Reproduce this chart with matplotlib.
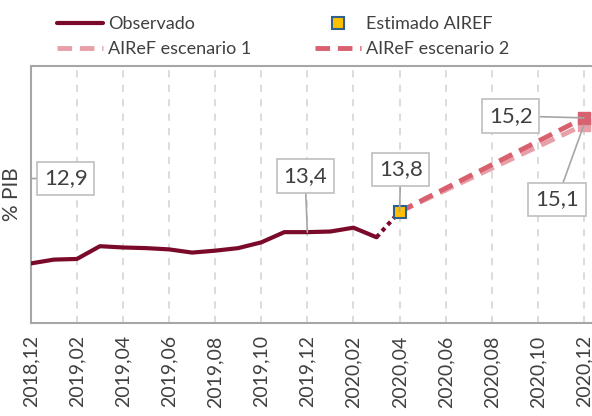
import matplotlib.pyplot as plt
import numpy as np

plt.rcParams['font.family'] = ['Lato', 'DejaVu Sans']

meses = ['2018,12', '2019,01', '2019,02', '2019,03', '2019,04', '2019,05', '2019,06',
         '2019,07', '2019,08', '2019,09', '2019,10', '2019,11', '2019,12', '2020,01',
         '2020,02', '2020,03', '2020,04', '2020,05', '2020,06', '2020,07', '2020,08',
         '2020,09', '2020,10', '2020,11', '2020,12']
observado = [12.92, 12.98, 12.99, 13.19, 13.17, 13.16, 13.14, 13.09, 13.12, 13.16,
             13.25, 13.41, 13.41, 13.42, 13.48, 13.33]
estimado = 13.73          # 2020,04
esc1 = [13.73, 15.09]     # 2020,04 -> 2020,12
esc2 = [13.73, 15.20]

gris_txt = '#404040'
c_obs = '#7B0A2A'
c_e1 = '#E8A0A8'
c_e2 = '#D9606E'

x = np.arange(len(meses))
i_est = meses.index('2020,04')
i_fin = meses.index('2020,12')

fig = plt.figure(figsize=(5.92, 4.16), dpi=100)
ax = fig.add_axes([0.052, 0.224, 0.948, 0.617])

for xi in x[::2][1:]:
    ax.axvline(xi, color='#D9D9D9', lw=1.3, ls=(0, (4, 4)), zorder=0)

n = len(observado)
l_obs, = ax.plot(x[:n], observado, color=c_obs, lw=3, solid_capstyle='round', zorder=3)
ax.plot([x[n - 1], x[i_est]], [observado[-1], estimado], color=c_obs, lw=3, ls=(0, (1, 1)), zorder=3)
l_e1, = ax.plot([x[i_est], x[i_fin]], esc1, color=c_e1, lw=3.5, ls=(0, (3, 1.6)), zorder=4)
l_e2, = ax.plot([x[i_est], x[i_fin]], esc2, color=c_e2, lw=3.5, ls=(0, (3, 1.6)), zorder=5)
ax.plot(x[i_fin], esc1[1], 's', color=c_e1, ms=9, zorder=6)
ax.plot(x[i_fin], esc2[1], 's', color=c_e2, ms=9, zorder=7)
m_est, = ax.plot(x[i_est], estimado, 's', mfc='#FFC000', mec='#2F5F8A', mew=1.5, ms=9, ls='none', zorder=8)

box = dict(boxstyle='square,pad=0.3', fc='white', ec='#BFBFBF', lw=1.2)
arrow = dict(arrowstyle='-', color='#A6A6A6', lw=1.2, shrinkA=0, shrinkB=0)
etiquetas = [('12,9', (0, 14.25), (1.52, 14.25)),
             ('13,4', (12, observado[12]), (11.9, 14.29)),
             ('13,8', (i_est, estimado), (16.05, 14.39)),
             ('15,2', (i_fin, esc2[1]), (20.83, 15.23)),
             ('15,1', (i_fin, esc1[1]), (22.83, 13.92))]
for txt, xy, xyt in etiquetas:
    ax.annotate(txt, xy=xy, xytext=xyt, ha='center', va='center', fontsize=16,
                color=gris_txt, bbox=box, arrowprops=arrow, zorder=9)

ax.set_xlim(0, 24.35)
ax.set_ylim(11.99, 16.01)
ax.set_xticks(x[::2])
ax.set_xticklabels(meses[::2], rotation=90, fontsize=14, color=gris_txt)
ax.tick_params(axis='x', length=0, pad=9)
ax.set_yticks([])
ax.set_ylabel('% PIB', fontsize=15, color=gris_txt, labelpad=6)
for s in ['left', 'top', 'bottom']:
    ax.spines[s].set_color('#A6A6A6')
    ax.spines[s].set_linewidth(1.5)
ax.spines['right'].set_visible(False)

fig.legend([l_obs, l_e1, m_est, l_e2],
           ['Observado', 'AIReF escenario 1', 'Estimado AIREF', 'AIReF escenario 2'],
           loc='upper left', bbox_to_anchor=(0.069, 1.0), ncol=2, frameon=False,
           fontsize=13, labelcolor=gris_txt, handlelength=2.55, handletextpad=0.28,
           columnspacing=3.5, labelspacing=0.5)

fig.savefig('out.png', dpi=100)
